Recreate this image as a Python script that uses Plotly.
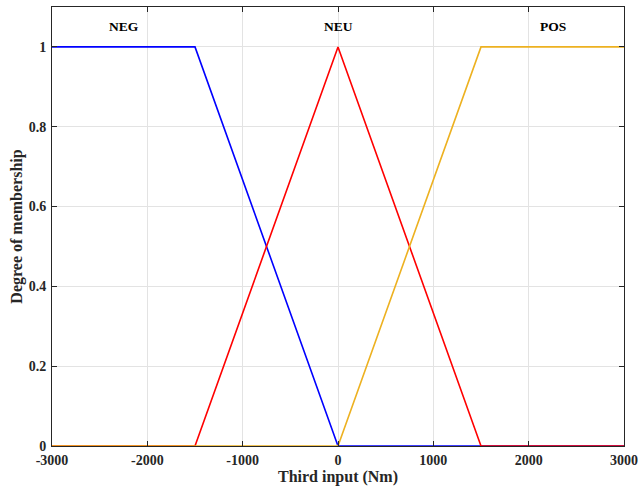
import plotly.graph_objects as go

# Membership functions for the third input (torque, Nm)
x_neg = [-3000, -1500, 0, 3000]
y_neg = [1, 1, 0, 0]
x_neu = [-3000, -1500, 0, 1500, 3000]
y_neu = [0, 0, 1, 0, 0]
x_pos = [-3000, 0, 1500, 3000]
y_pos = [0, 0, 1, 1]

mf_names = ["NEG", "NEU", "POS"]
mf_label_x = [-2250, 0, 2250]
mf_label_y = [1.05, 1.05, 1.05]

x_ticks = [-3000, -2000, -1000, 0, 1000, 2000, 3000]
y_ticks = [0, 0.2, 0.4, 0.6, 0.8, 1]

font_family = "Liberation Serif"

fig = go.Figure()
for xs, ys, col in [(x_neg, y_neg, "#0000FF"),
                    (x_neu, y_neu, "#FF0000"),
                    (x_pos, y_pos, "#EDB120")]:
    fig.add_trace(go.Scatter(x=xs, y=ys, mode="lines",
                             line=dict(color=col, width=1.6),
                             showlegend=False, hoverinfo="skip"))

for name, lx, ly in zip(mf_names, mf_label_x, mf_label_y):
    fig.add_annotation(x=lx, y=ly, text="<b>%s</b>" % name, showarrow=False,
                       font=dict(family=font_family, size=13.5, color="#000000"))

axis_common = dict(
    showline=True, linecolor="#262626", linewidth=1, mirror="ticks",
    ticks="inside", ticklen=5, tickcolor="#262626",
    showgrid=True, gridcolor="#E3E3E3", gridwidth=1,
    zeroline=False, automargin=False,
    tickfont=dict(family=font_family, size=14, color="#262626"),
)

fig.update_xaxes(range=[-3000, 3000], tickvals=x_ticks,
                 ticktext=["<b>%d</b>" % v for v in x_ticks],
                 ticklabelstandoff=1,
                 title=dict(text="<b>Third input (Nm)</b>",
                            font=dict(family=font_family, size=16, color="#262626"),
                            standoff=2),
                 **axis_common)
fig.update_yaxes(range=[0, 1.1], tickvals=y_ticks,
                 ticktext=["<b>%g</b>" % v for v in y_ticks],
                 ticklabelstandoff=2,
                 title=dict(text="<b>Degree of membership</b>",
                            font=dict(family=font_family, size=16, color="#262626"),
                            standoff=2),
                 **axis_common)

fig.update_layout(
    width=638, height=491,
    margin=dict(l=52, r=14, t=7, b=45),
    plot_bgcolor="white", paper_bgcolor="white",
)

fig.write_html("out.html")
